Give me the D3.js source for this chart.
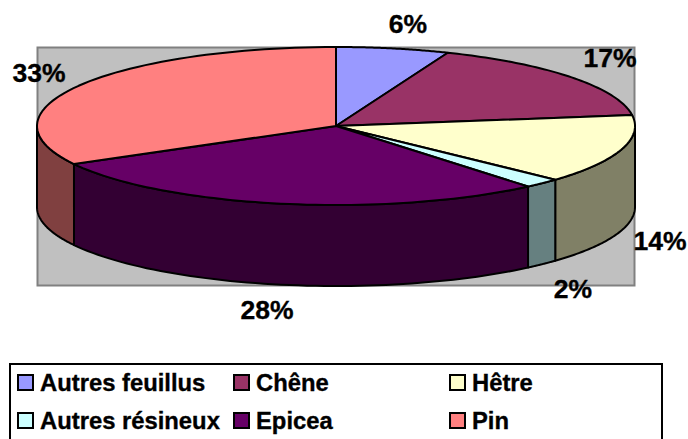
<!DOCTYPE html>
<html><head><meta charset="utf-8">
<script src="https://cdn.jsdelivr.net/npm/d3@7/dist/d3.min.js"></script>
<style>html,body{margin:0;padding:0;background:#fff;overflow:hidden}svg{display:block}text{font-family:"Liberation Sans",Arial,sans-serif;font-weight:bold;fill:#000;stroke:#000;stroke-width:.35px}</style>
</head><body><svg id="c" width="688" height="439"></svg>
<script>
const categories=["Autres feuillus","Chêne","Hêtre","Autres résineux","Epicea","Pin"];
const values=[6.1,16.7,14.1,2.0,28.1,33.0];
const labels=["6%","17%","14%","2%","28%","33%"];
const topColors=["#9999FF","#993366","#FFFFCC","#CCFFFF","#660066","#FF8080"];
const sideColors=["#4D4D80","#4D1A33","#808066","#668080","#330033","#804040"];
const labelX=[408,610,660,573,267,39];
const labelY=[33,67,250,298,319,82];
const legendCol=[17,233,449];
const legendRow=[374,412];

const svg=d3.select("#c");
const cx=336,cy=126,rx=299,ry=79,depth=81;
const X=a=>cx+rx*Math.sin(a), Y=a=>cy-ry*Math.cos(a);
svg.append("rect").attr("x",37.5).attr("y",47.5).attr("width",597).attr("height",238)
  .attr("fill","#C0C0C0").attr("stroke","#808080").attr("stroke-width",2);

const pie=d3.pie().sort(null).value(d=>d)(values);
const line=d3.line();
const arcPts=(a0,a1,dy=0)=>d3.range(0,61).map(i=>{const a=a0+(a1-a0)*i/60;return [X(a),Y(a)+dy];});
const lo=Math.PI/2,hi=Math.PI*1.5;
pie.forEach((p,i)=>{
  const a0=Math.max(p.startAngle,lo),a1=Math.min(p.endAngle,hi);
  if(a1>a0){
    svg.append("path").attr("d",line([...arcPts(a0,a1),...arcPts(a1,a0,depth)])+"Z")
      .attr("fill",sideColors[i]).attr("stroke","#000").attr("stroke-width",2).attr("stroke-linejoin","round");
  }
});
pie.forEach((p,i)=>{
  svg.append("path").attr("d",line([[cx,cy],...arcPts(p.startAngle,p.endAngle)])+"Z")
    .attr("fill",topColors[i]).attr("stroke","#000").attr("stroke-width",2).attr("stroke-linejoin","round");
});
labels.forEach((t,i)=>svg.append("text").attr("x",labelX[i]).attr("y",labelY[i]).attr("text-anchor","middle").attr("font-size",26.5).text(t));
svg.append("rect").attr("x",10).attr("y",364).attr("width",652).attr("height",90)
  .attr("fill","#fff").attr("stroke","#000").attr("stroke-width",2);
categories.forEach((c,i)=>{
  const x=legendCol[i%3],y=legendRow[Math.floor(i/3)];
  svg.append("rect").attr("x",x+1).attr("y",y+1).attr("width",15).attr("height",15)
    .attr("fill",topColors[i]).attr("stroke","#000").attr("stroke-width",2);
  svg.append("text").attr("x",x+23).attr("y",y+17).attr("font-size",23.8).text(c);
});
</script></body></html>
